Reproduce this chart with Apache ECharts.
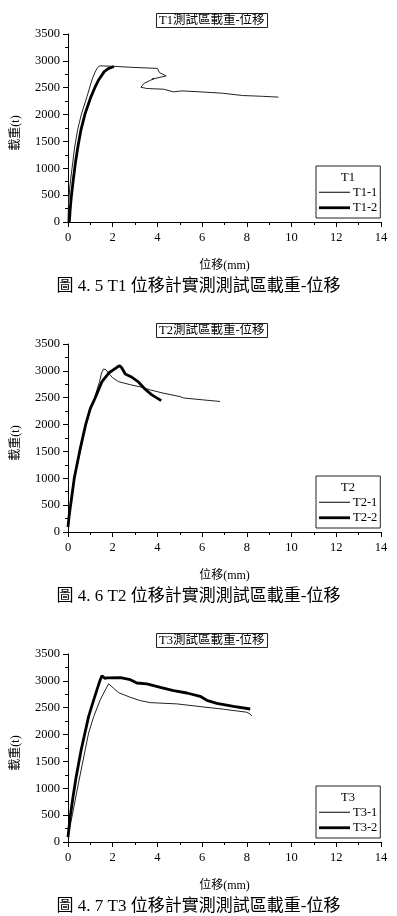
<!DOCTYPE html>
<html>
<head>
<meta charset="utf-8">
<script src="https://cdn.jsdelivr.net/npm/echarts@6/dist/echarts.min.js"></script>
<style>
html,body{margin:0;padding:0;background:#fff;}
#c{width:397px;height:916px;}
</style>
</head>
<body>
<div id="c"></div>
<script>
// ---- data (displacement mm, load t) ----
const panelTitles = ['T1測試區載重-位移', 'T2測試區載重-位移', 'T3測試區載重-位移'];
const captions = ['圖 4. 5 T1 位移計實測測試區載重-位移', '圖 4. 6 T2 位移計實測測試區載重-位移', '圖 4. 7 T3 位移計實測測試區載重-位移'];
const legendTitles = ['T1', 'T2', 'T3'];
const seriesNames = [['T1-1', 'T1-2'], ['T2-1', 'T2-2'], ['T3-1', 'T3-2']];
const xName = '位移(mm)';
const yName = '載重(t)';

const t1_1 = [[0,0],[0.02,300],[0.08,650],[0.18,1000],[0.3,1400],[0.43,1716],[0.6,2010],[0.85,2335],[1.07,2645],[1.2,2780],[1.3,2862],[1.4,2906],[1.6,2905],[2.2,2895],[2.8,2880],[3.4,2870],[4.0,2860],[4.09,2781],[4.39,2720],[3.75,2658],[3.85,2670],[3.7,2640],[3.41,2584],[3.26,2509],[3.53,2485],[4.27,2472],[4.72,2423],[5.09,2441],[5.91,2423],[6.9,2398],[7.8,2355],[8.7,2340],[9.41,2325]];
const t1_2 = [[0.06,0],[0.1,250],[0.15,476],[0.24,800],[0.33,1097],[0.45,1420],[0.58,1716],[0.77,2026],[1.03,2335],[1.2,2500],[1.37,2645],[1.62,2800],[1.8,2855],[1.97,2881],[2.05,2892]];
const t2_1 = [[0,100],[0.1,500],[0.28,1000],[0.55,1500],[0.8,2000],[1.0,2280],[1.19,2500],[1.41,2800],[1.5,2960],[1.59,3035],[1.7,3020],[1.85,2940],[2.0,2870],[2.26,2799],[2.78,2743],[3.3,2695],[3.68,2645],[4.27,2584],[5.02,2520],[5.17,2495],[6.06,2459],[6.8,2430]];
const t2_2 = [[0,90],[0.05,300],[0.15,600],[0.28,1000],[0.52,1500],[0.79,2000],[1.0,2300],[1.22,2500],[1.52,2800],[1.85,2970],[2.19,3066],[2.31,3097],[2.41,3053],[2.56,2942],[2.86,2881],[3.16,2788],[3.45,2658],[3.75,2552],[4.17,2446]];
const t3_1 = [[0,100],[0.2,520],[0.47,1097],[0.77,1716],[0.92,2026],[1.15,2335],[1.44,2645],[1.67,2831],[1.82,2945],[2.04,2862],[2.26,2781],[2.78,2695],[3.23,2632],[3.68,2595],[3.75,2614],[4.87,2571],[5.91,2521],[6.95,2472],[8.0,2416],[8.15,2380],[8.22,2345]];
const t3_2 = [[0,90],[0.1,476],[0.21,800],[0.36,1200],[0.59,1716],[0.92,2335],[1.15,2645],[1.34,2892],[1.45,3030],[1.52,3095],[1.58,3090],[1.64,3048],[1.74,3055],[2.34,3058],[2.79,3022],[3.08,2960],[3.53,2945],[4.13,2880],[4.72,2818],[5.32,2774],[5.91,2712],[6.21,2638],[6.66,2582],[7.4,2526],[8.15,2476]];
const panelData = [[t1_1, t1_2], [t2_1, t2_2], [t3_1, t3_2]];

const FONT = '"Liberation Serif", "Noto Sans CJK TC", serif';
const chart = echarts.init(document.getElementById('c'), null, {renderer: 'canvas'});

const ICON_THIN = 'path://M0,0L0,0M0,12L0,12M0,5.5L31,5.5L31,6.5L0,6.5Z';
const ICON_THICK = 'path://M0,0L0,0M0,12L0,12M0,4.6L31,4.6L31,7.4L0,7.4Z';

const grids = [], xAxes = [], yAxes = [], series = [], titles = [], legends = [];
for (let i = 0; i < 3; i++) {
  const off = 310 * i;
  grids.push({left: 68, right: 16, top: 34 + off, height: 188, containLabel: false});
  xAxes.push({
    type: 'value', gridIndex: i, min: 0, max: 14, interval: 2,
    name: xName, nameLocation: 'middle', nameGap: 38,
    nameTextStyle: {fontFamily: FONT, fontSize: 12, color: '#000'},
    axisLine: {lineStyle: {color: '#000', width: 1}},
    axisTick: {show: true, length: 5, lineStyle: {color: '#000'}},
    minorTick: {show: true, splitNumber: 2, length: 3, lineStyle: {color: '#000'}},
    axisLabel: {fontFamily: FONT, fontSize: 12.5, color: '#000', margin: 9, formatter: v => String(v)},
    splitLine: {show: false}
  });
  yAxes.push({
    type: 'value', gridIndex: i, min: 0, max: 3500, interval: 500,
    name: yName, nameLocation: 'middle', nameGap: 46, nameRotate: 90,
    nameTextStyle: {fontFamily: FONT, fontSize: 12, color: '#000', padding: [0, 10, 0, 0]},
    axisLine: {show: true, lineStyle: {color: '#000', width: 1}},
    axisTick: {show: true, length: 5, lineStyle: {color: '#000'}},
    minorTick: {show: true, splitNumber: 2, length: 3, lineStyle: {color: '#000'}},
    axisLabel: {fontFamily: FONT, fontSize: 12.5, color: '#000', margin: 8, formatter: v => String(v)},
    splitLine: {show: false}
  });
  const widths = [1, 2.8];
  for (let k = 0; k < 2; k++) {
    series.push({
      type: 'line', name: seriesNames[i][k], xAxisIndex: i, yAxisIndex: i,
      data: panelData[i][k], showSymbol: false, symbol: 'none', smooth: false,
      lineStyle: {color: k === 0 ? '#222' : '#000', width: widths[k]},
      itemStyle: {color: '#000'}, animation: false
    });
  }
  titles.push({
    text: panelTitles[i], left: 156, top: 13 + off,
    padding: [1, 3], borderWidth: 1, borderColor: '#222',
    textStyle: {fontFamily: FONT, fontSize: 12.5, fontWeight: 'normal', color: '#000'}
  });
  titles.push({
    text: captions[i], left: 'center', top: 278 + off, padding: 0,
    textStyle: {fontFamily: FONT, fontSize: 17, fontWeight: 'normal', color: '#000'}
  });
  titles.push({
    text: legendTitles[i], left: 341, top: 171 + off, padding: 0,
    textStyle: {fontFamily: FONT, fontSize: 12.5, fontWeight: 'normal', color: '#000'}
  });
  legends.push({
    data: seriesNames[i].map((n, k) => ({
      name: n, icon: k === 0 ? ICON_THIN : ICON_THICK,
      itemStyle: {color: '#000', borderWidth: 0}
    })),
    orient: 'vertical', left: 316, top: 166 + off,
    padding: [20, 3, 4, 3], itemGap: 3, itemWidth: 31, itemHeight: 12,
    borderWidth: 1, borderColor: '#222', backgroundColor: '#fff',
    itemStyle: {borderWidth: 0},
    textStyle: {fontFamily: FONT, fontSize: 12.5, color: '#000', padding: [0, 0, 0, -2]},
    selectedMode: false
  });
}

chart.setOption({
  animation: false,
  backgroundColor: '#fff',
  title: titles,
  legend: legends,
  grid: grids,
  xAxis: xAxes,
  yAxis: yAxes,
  series: series
});
</script>
</body>
</html>
